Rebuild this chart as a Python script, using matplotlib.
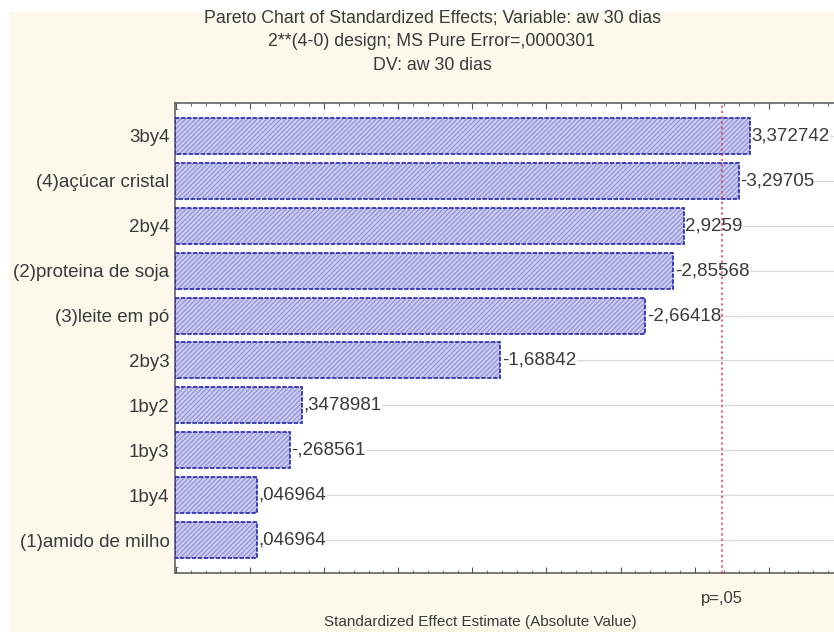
import matplotlib
matplotlib.use("Agg")
import matplotlib.pyplot as plt
from matplotlib.patches import Rectangle
from matplotlib.ticker import MultipleLocator

plt.rcParams['font.family'] = ['Liberation Sans', 'DejaVu Sans']
plt.rcParams['hatch.linewidth'] = 0.7

# effects, top to bottom (signed standardized estimates)
factors = ["3by4", "(4)açúcar cristal", "2by4", "(2)proteina de soja",
           "(3)leite em pó", "2by3", "1by2", "1by3", "1by4", "(1)amido de milho"]
effects = [3.372742, -3.29705, 2.9259, -2.85568, -2.66418,
           -1.68842, 0.3478981, -0.268561, 0.046964, 0.046964]
t_crit = 3.182446   # p = .05
xmin, xmax = -0.506, 3.94

title_lines = ["Pareto Chart of Standardized Effects; Variable: aw 30 dias",
               "2**(4-0) design; MS Pure Error=,0000301",
               "DV: aw 30 dias"]
xlabel = "Standardized Effect Estimate (Absolute Value)"


def fmt(v):
    s = "%.7g" % v
    s = s.replace("0.", ".", 1) if s.lstrip("-").startswith("0.") else s
    return s.replace(".", ",")


fig = plt.figure(figsize=(8.34, 6.32), dpi=100, facecolor="white")
fig.patches.append(Rectangle((10 / 834, 0), 1, 1 - 12 / 632, transform=fig.transFigure,
                             facecolor="#fcf8ec", edgecolor="none", zorder=-10))

ax = fig.add_axes([175 / 834, 59 / 632, 659 / 834, 470 / 632])
ax.set_facecolor("white")

n = len(factors)
ypos = list(range(n))
mags = [abs(v) for v in effects]

for y in ypos:
    ax.axhline(y, color="#dadada", lw=1, zorder=0)

ax.barh(ypos, [m - xmin for m in mags], left=xmin, height=0.8,
        color="#c8c8f4", edgecolor="#8c8cc4", hatch="///////", lw=0, zorder=2)
ax.barh(ypos, [m - xmin for m in mags], left=xmin, height=0.8,
        color="none", edgecolor="#3434b0", lw=1.3, ls=(0, (2.5, 0.8)), zorder=3)

for y, m, v in zip(ypos, mags, effects):
    ax.text(m + 0.012, y, fmt(v), va="center", ha="left", fontsize=13.5,
            color="#3a3a3a", zorder=4,
            bbox=dict(facecolor="white", edgecolor="none", pad=0.3))

ax.axvline(t_crit, color="#d04060", lw=1.1, ls=(0, (1.5, 2)), zorder=5)

ax.set_xlim(xmin, xmax)
ax.set_ylim(n - 0.27, -0.73)
ax.set_yticks(ypos)
ax.set_yticklabels(factors, fontsize=13.5, color="#3a3a3a")
ax.yaxis.set_minor_locator(MultipleLocator(0.2))
ax.xaxis.set_major_locator(MultipleLocator(0.5))
ax.xaxis.set_minor_locator(MultipleLocator(0.1))
ax.tick_params(axis="x", which="both", direction="in", top=True, labelbottom=False,
               color="#555555")
ax.tick_params(axis="x", which="major", length=4)
ax.tick_params(axis="x", which="minor", length=2.5)
ax.tick_params(axis="y", which="both", direction="in", length=2.5, color="#555555",
               pad=4)
for side in ["left", "bottom", "top"]:
    ax.spines[side].set_color("#555555")
    ax.spines[side].set_linewidth(1.1)
ax.spines["right"].set_visible(False)

ax.text(t_crit, -0.055, "p=,05", transform=ax.get_xaxis_transform(), ha="center",
        va="center", fontsize=12, color="#3a3a3a")

for i, line in enumerate(title_lines):
    fig.text(432 / 834, 1 - (18 + 24 * i) / 632, line, ha="center", va="center",
             fontsize=12.8, color="#3a3a3a")
fig.text(480 / 834, 1 - 622 / 632, xlabel, ha="center", va="center", fontsize=11,
         color="#3a3a3a")

fig.savefig("out.png", dpi=100, facecolor=fig.get_facecolor())
